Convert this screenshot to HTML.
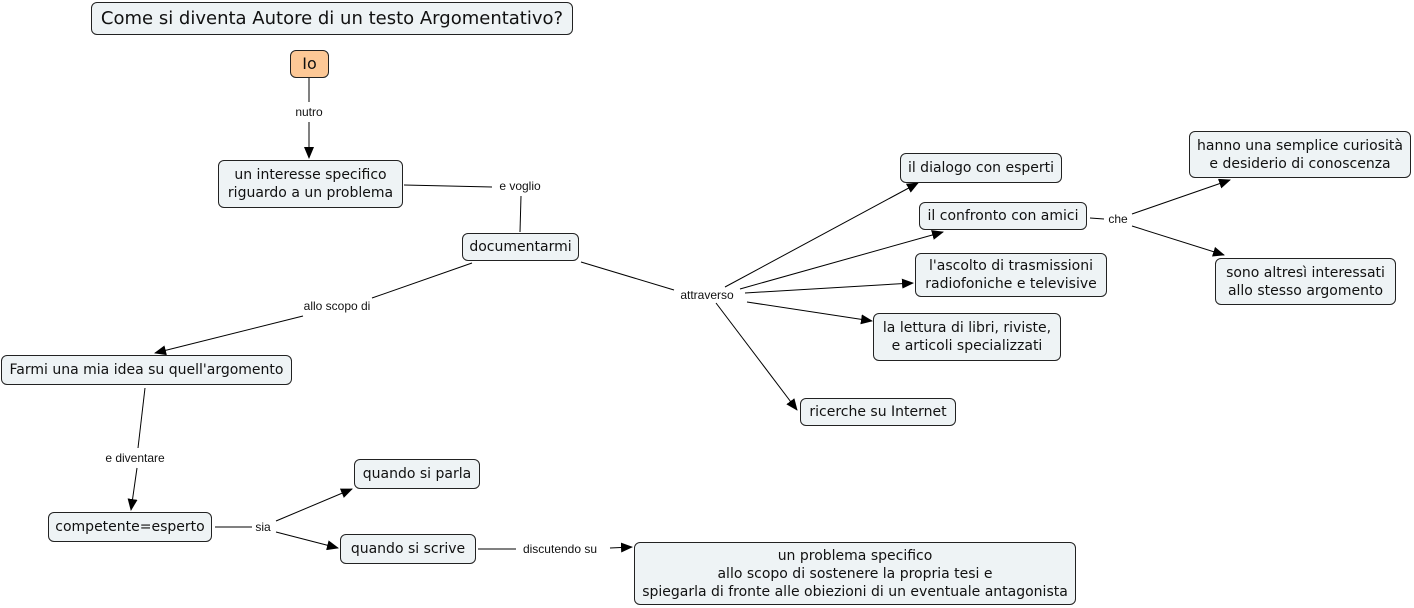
<!DOCTYPE html>
<html><head><meta charset="utf-8"><style>
body{margin:0;width:1414px;height:608px;background:#fff;position:relative;overflow:hidden;font-family:"DejaVu Sans","Liberation Sans",sans-serif;}
.n{position:absolute;box-sizing:border-box;border:1px solid #222;border-radius:6px;background:#eef3f5;font-size:14px;color:#111;display:flex;align-items:center;justify-content:center;text-align:center;line-height:18px;white-space:nowrap;}
.l{position:absolute;font-family:"Liberation Sans",sans-serif;font-size:12px;color:#111;transform:translate(-50%,-50%);background:#fff;white-space:nowrap;padding:0 1px;}
svg{position:absolute;left:0;top:0;}
</style></head><body>
<svg width="1414" height="608">
<defs><marker id="a" markerWidth="12" markerHeight="10" refX="11" refY="5" orient="auto" markerUnits="userSpaceOnUse"><path d="M0,0 L12,5 L0,10 z" fill="#000"/></marker></defs>
<g stroke="#000" stroke-width="1" fill="none">
<line x1="309" y1="78" x2="309" y2="102"/>
<line x1="309" y1="122" x2="309" y2="158" marker-end="url(#a)"/>
<line x1="404" y1="185" x2="492" y2="187"/>
<line x1="521" y1="196" x2="520" y2="232"/>
<line x1="472" y1="263" x2="372" y2="298"/>
<line x1="303" y1="316" x2="155" y2="353" marker-end="url(#a)"/>
<line x1="581" y1="262" x2="674" y2="290"/>
<line x1="725" y1="287" x2="918" y2="183" marker-end="url(#a)"/>
<line x1="740" y1="289" x2="943" y2="232" marker-end="url(#a)"/>
<line x1="745" y1="293" x2="913" y2="283" marker-end="url(#a)"/>
<line x1="747" y1="302" x2="872" y2="321" marker-end="url(#a)"/>
<line x1="716" y1="303" x2="797" y2="410" marker-end="url(#a)"/>
<line x1="1090" y1="218" x2="1104" y2="219"/>
<line x1="1132" y1="214" x2="1230" y2="180" marker-end="url(#a)"/>
<line x1="1132" y1="226" x2="1224" y2="255" marker-end="url(#a)"/>
<line x1="145" y1="388" x2="138" y2="448"/>
<line x1="137" y1="468" x2="131" y2="510" marker-end="url(#a)"/>
<line x1="215" y1="527" x2="252" y2="527"/>
<line x1="276" y1="521" x2="352" y2="489" marker-end="url(#a)"/>
<line x1="276" y1="532" x2="338" y2="548" marker-end="url(#a)"/>
<line x1="478" y1="549" x2="516" y2="549"/>
<line x1="610" y1="548" x2="632" y2="547" marker-end="url(#a)"/>
</g></svg>
<div class="n" style="left:91px;top:2px;width:482px;height:33px;font-size:18px;">Come si diventa Autore di un testo Argomentativo?</div>
<div class="n" style="left:290px;top:50px;width:39px;height:28px;background:#fdc896;font-size:16px;">Io</div>
<div class="n" style="left:218px;top:160px;width:185px;height:48px;">un interesse specifico<br>riguardo a un problema</div>
<div class="n" style="left:462px;top:233px;width:117px;height:28px;">documentarmi</div>
<div class="n" style="left:1px;top:355px;width:291px;height:30px;">Farmi una mia idea su quell'argomento</div>
<div class="n" style="left:48px;top:512px;width:164px;height:30px;">competente=esperto</div>
<div class="n" style="left:354px;top:459px;width:126px;height:30px;">quando si parla</div>
<div class="n" style="left:340px;top:534px;width:136px;height:30px;">quando si scrive</div>
<div class="n" style="left:634px;top:542px;width:442px;height:63px;">un problema specifico<br>allo scopo di sostenere la propria tesi e<br>spiegarla di fronte alle obiezioni di un eventuale antagonista</div>
<div class="n" style="left:900px;top:153px;width:162px;height:30px;">il dialogo con esperti</div>
<div class="n" style="left:919px;top:202px;width:168px;height:28px;">il confronto con amici</div>
<div class="n" style="left:915px;top:253px;width:192px;height:44px;">l'ascolto di trasmissioni<br>radiofoniche e televisive</div>
<div class="n" style="left:873px;top:313px;width:188px;height:48px;">la lettura di libri, riviste,<br>e articoli specializzati</div>
<div class="n" style="left:800px;top:398px;width:156px;height:28px;">ricerche su Internet</div>
<div class="n" style="left:1189px;top:131px;width:222px;height:47px;">hanno una semplice curiosità<br>e desiderio di conoscenza</div>
<div class="n" style="left:1215px;top:258px;width:181px;height:47px;">sono altresì interessati<br>allo stesso argomento</div>
<div class="l" style="left:309px;top:112px;">nutro</div>
<div class="l" style="left:520px;top:186px;">e voglio</div>
<div class="l" style="left:337px;top:306px;">allo scopo di</div>
<div class="l" style="left:707px;top:295px;">attraverso</div>
<div class="l" style="left:1118px;top:219px;">che</div>
<div class="l" style="left:135px;top:458px;">e diventare</div>
<div class="l" style="left:263px;top:527px;">sia</div>
<div class="l" style="left:560px;top:549px;">discutendo su</div>
</body></html>
